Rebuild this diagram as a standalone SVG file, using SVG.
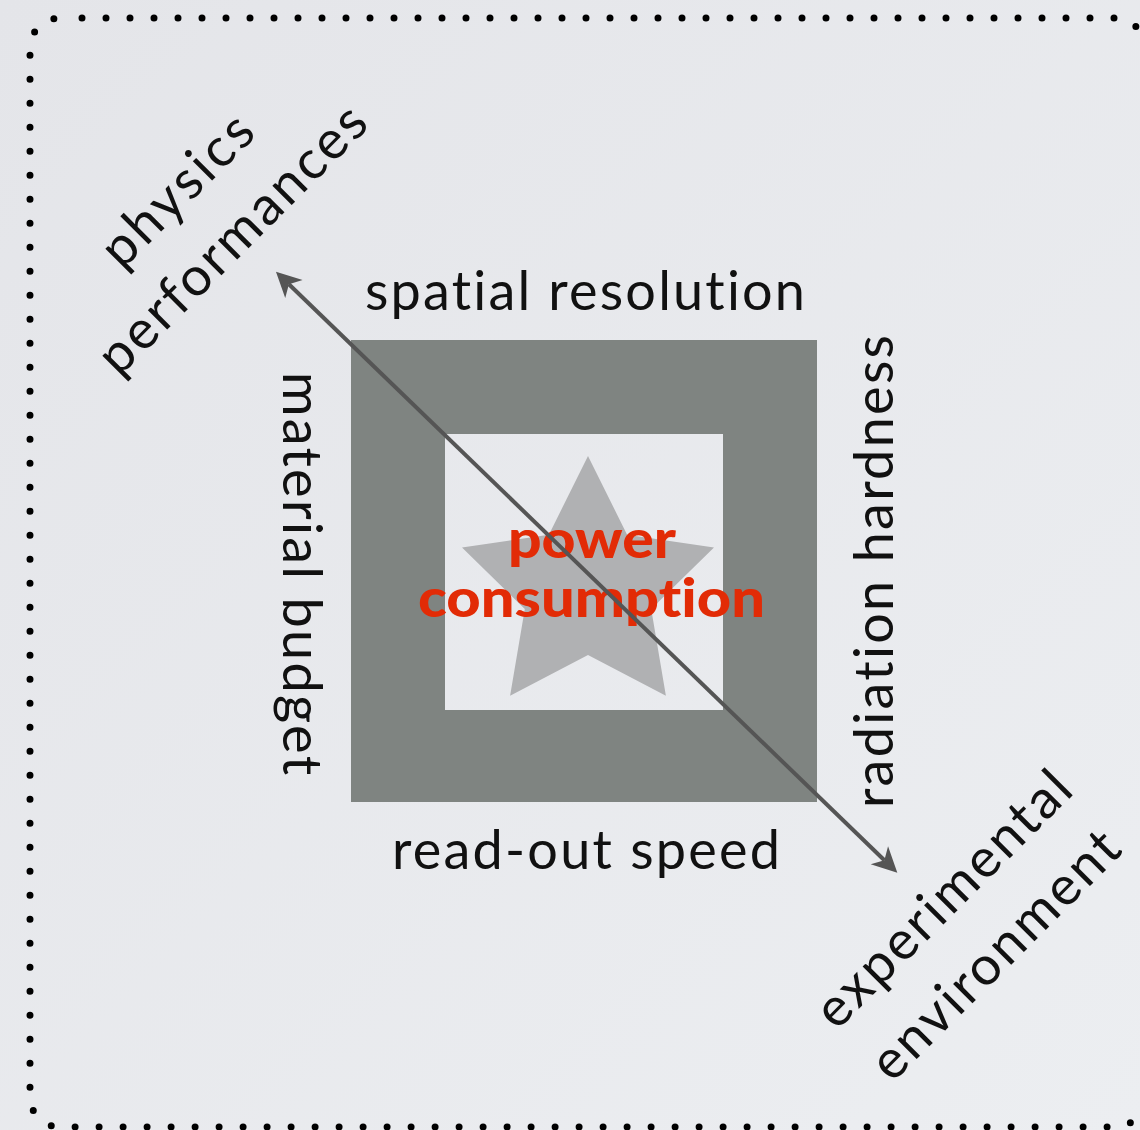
<svg xmlns="http://www.w3.org/2000/svg" width="1140" height="1130" viewBox="0 0 1140 1130">
  <defs>
    <linearGradient id="bg" x1="0" y1="0" x2="1" y2="1">
      <stop offset="0" stop-color="#e4e5e9"/>
      <stop offset="1" stop-color="#eceef1"/>
    </linearGradient>
    <marker id="head" viewBox="-8 -13 28 26" refX="0" refY="0" markerWidth="28" markerHeight="26" markerUnits="userSpaceOnUse" orient="auto-start-reverse">
      <path d="M18,0 L-7,-12.5 L0,0 L-7,12.5 Z" fill="#555555"/>
    </marker>
    <style>
      .lbl { font-family: Lato, "Open Sans", "Liberation Sans", sans-serif; font-size: 54px; fill: #111111; text-anchor: middle; font-variant-ligatures: none; }
      .core { font-family: Lato, "Open Sans", "Liberation Sans", sans-serif; font-size: 53px; font-weight: 900; fill: #e22b06; text-anchor: middle; font-variant-ligatures: none; }
      .conn { stroke: #555555; stroke-width: 4; fill: none; }
    </style>
  </defs>

  <rect x="0" y="0" width="1140" height="1130" fill="url(#bg)"/>

  <g id="border">
    <rect x="30" y="18" width="1115" height="1109" rx="30" ry="30" fill="none" stroke="#000000" stroke-width="7" stroke-linecap="round" stroke-dasharray="0 24" stroke-dashoffset="2"/>
  </g>

  <g id="frame">
    <path d="M351,340 H817 V802 H351 Z M445,434 V710 H723 V434 Z" fill="#7f8481" fill-rule="evenodd"/>
  </g>

  <g id="star">
    <polygon points="588,456 627.1,534.7 714,547.6 651.2,609 665.9,695.7 588,655 510.1,695.7 524.8,609 462,547.6 548.9,534.7" fill="#b0b1b3"/>
  </g>

  <g id="power-consumption">
    <text class="core" x="592" y="558" textLength="168" lengthAdjust="spacingAndGlyphs">power</text>
    <text class="core" x="591.5" y="617" textLength="347" lengthAdjust="spacingAndGlyphs">consumption</text>
  </g>

  <g id="spatial-resolution">
    <text class="lbl" x="585" y="310" textLength="440" lengthAdjust="spacing">spatial resolution</text>
  </g>

  <g id="read-out-speed">
    <text class="lbl" x="586" y="869" textLength="388" lengthAdjust="spacing">read-out speed</text>
  </g>

  <g id="material-budget">
    <text class="lbl" transform="translate(283,573.5) rotate(90)" x="0" y="0" textLength="403" lengthAdjust="spacing">material budget</text>
  </g>

  <g id="radiation-hardness">
    <text class="lbl" transform="translate(893,571.5) rotate(-90)" x="0" y="0" textLength="473" lengthAdjust="spacing">radiation hardness</text>
  </g>

  <g id="physics-performances">
    <text class="lbl" transform="translate(180,193) rotate(-45)" x="0" y="14" textLength="192" lengthAdjust="spacing">physics</text>
    <text class="lbl" transform="translate(235,242) rotate(-45)" x="0" y="14" textLength="356" lengthAdjust="spacing">performances</text>
  </g>

  <g id="experimental-environment">
    <text class="lbl" transform="translate(946,902) rotate(-45)" x="0" y="14" textLength="338" lengthAdjust="spacing">experimental</text>
    <text class="lbl" transform="translate(998,958) rotate(-45)" x="0" y="14" textLength="328" lengthAdjust="spacing">environment</text>
  </g>

  <g id="connectors">
    <line class="conn" x1="288.9" y1="284.2" x2="884.4" y2="860.2" marker-start="url(#head)" marker-end="url(#head)"/>
  </g>
</svg>
